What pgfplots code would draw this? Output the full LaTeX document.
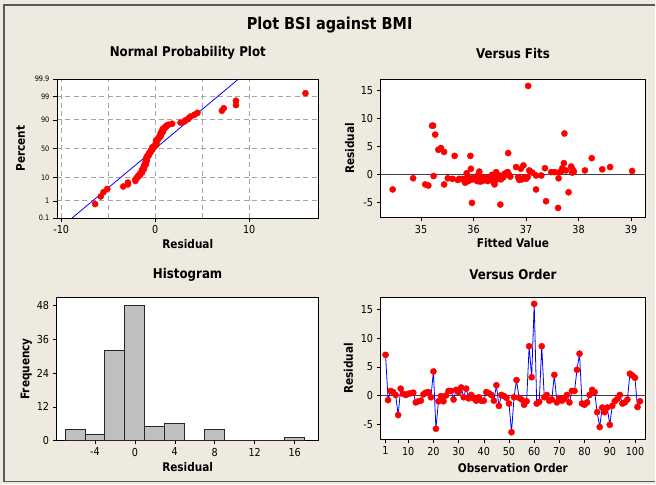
\documentclass[border=0pt]{standalone}
\usepackage{fontspec}
\setmainfont{DejaVu Sans}[FakeStretch=0.88]
\usepackage{pgfplots}
\pgfplotsset{compat=1.18}
\usepackage{pgfplotstable}

\definecolor{mtbbg}{RGB}{238,234,224}
\definecolor{mtbframe}{RGB}{90,90,90}
\definecolor{mtbgrid}{RGB}{165,165,165}
\definecolor{mtbbar}{RGB}{192,192,192}

% residuals against observation order
\pgfplotstableread{
obs res
1 7.1
2 -0.8
3 0.8
4 0.6
5 0.1
6 -3.4
7 1.2
8 0.3
9 0.1
10 0.3
11 0.4
12 0.5
13 -1.2
14 -1.0
15 -0.9
16 0.2
17 0.5
18 0.6
19 -0.3
20 4.2
21 -5.8
22 -1.0
23 -0.1
24 -1.0
25 0.0
26 0.8
27 0.8
28 -0.7
29 1.0
30 0.6
31 1.4
32 -0.3
33 1.2
34 -0.5
35 0.1
36 -0.5
37 -0.9
38 -0.3
39 -0.9
40 -0.9
41 0.6
42 0.4
43 0.1
44 -0.9
45 1.8
46 -1.8
47 0.1
48 -0.1
49 -0.4
50 -1.4
51 -6.4
52 -0.3
53 2.7
54 -0.4
55 -0.7
56 -1.6
57 -1.0
58 8.6
59 3.2
60 16.0
61 -1.4
62 -1.1
63 8.6
64 -0.3
65 0.1
66 -0.9
67 -0.7
68 3.6
69 -1.2
70 -0.5
71 -0.9
72 -0.6
73 0.1
74 -1.2
75 0.8
76 0.8
77 4.5
78 7.3
79 -1.4
80 -1.6
81 -1.2
82 0.1
83 1.0
84 0.6
85 -2.9
86 -5.5
87 -2.1
88 -2.9
89 -2.1
90 -5.1
91 -1.8
92 -1.0
93 -0.6
94 0.1
95 -1.4
96 -1.2
97 -0.7
98 3.8
99 3.5
100 3.1
101 -2.0
102 -1.0
}\ordertab

% sorted residuals and normal scores
\pgfplotstableread{
res z
-6.4 -2.466
-5.8 -2.130
-5.5 -1.937
-5.1 -1.797
-3.4 -1.686
-2.9 -1.592
-2.9 -1.511
-2.1 -1.438
-2.1 -1.372
-2.0 -1.312
-1.8 -1.256
-1.8 -1.204
-1.6 -1.155
-1.6 -1.108
-1.4 -1.064
-1.4 -1.022
-1.4 -0.981
-1.4 -0.943
-1.2 -0.905
-1.2 -0.869
-1.2 -0.834
-1.2 -0.800
-1.2 -0.767
-1.1 -0.734
-1.0 -0.703
-1.0 -0.672
-1.0 -0.641
-1.0 -0.611
-1.0 -0.582
-1.0 -0.553
-0.9 -0.525
-0.9 -0.497
-0.9 -0.470
-0.9 -0.442
-0.9 -0.416
-0.9 -0.389
-0.9 -0.363
-0.8 -0.337
-0.7 -0.311
-0.7 -0.286
-0.7 -0.260
-0.7 -0.235
-0.6 -0.210
-0.6 -0.185
-0.5 -0.160
-0.5 -0.135
-0.5 -0.110
-0.4 -0.086
-0.4 -0.061
-0.3 -0.037
-0.3 -0.012
-0.3 0.012
-0.3 0.037
-0.3 0.061
-0.1 0.086
-0.1 0.110
0.0 0.135
0.1 0.160
0.1 0.185
0.1 0.210
0.1 0.235
0.1 0.260
0.1 0.286
0.1 0.311
0.1 0.337
0.1 0.363
0.2 0.389
0.3 0.416
0.3 0.442
0.4 0.470
0.4 0.497
0.5 0.525
0.5 0.553
0.6 0.582
0.6 0.611
0.6 0.641
0.6 0.672
0.6 0.703
0.8 0.734
0.8 0.767
0.8 0.800
0.8 0.834
0.8 0.869
1.0 0.905
1.0 0.943
1.2 0.981
1.2 1.022
1.4 1.064
1.8 1.108
2.7 1.155
3.1 1.204
3.2 1.256
3.5 1.312
3.6 1.372
3.8 1.438
4.2 1.511
4.5 1.592
7.1 1.686
7.3 1.797
8.6 1.937
8.6 2.130
16.0 2.466
}\npptab

% fitted values and residuals
\pgfplotstableread{
fit res
34.46 -2.7
34.85 -0.7
35.08 -1.8
35.14 -2.0
35.21 8.7
35.23 8.7
35.24 -0.3
35.27 7.1
35.33 4.4
35.38 4.7
35.44 4.0
35.44 -1.8
35.51 -0.7
35.60 -0.8
35.64 3.3
35.70 -1.0
35.73 -0.8
35.79 -0.8
35.82 -1.1
35.84 -1.5
35.86 -0.9
35.87 0.2
35.89 -0.4
35.90 -1.2
35.92 -1.0
35.94 3.3
35.95 1.0
35.97 -5.1
35.97 -0.9
35.98 -0.7
36.02 -0.9
36.05 -0.5
36.07 -1.2
36.08 -0.2
36.09 -1.0
36.11 0.5
36.12 -0.3
36.13 -1.3
36.14 -1.0
36.16 -0.7
36.19 -1.1
36.20 -0.6
36.24 -0.8
36.27 -1.2
36.30 -0.5
36.33 -1.0
36.35 -0.1
36.36 -0.9
36.38 -1.4
36.40 -1.8
36.42 -1.1
36.43 0.4
36.46 -0.3
36.49 -0.2
36.51 -5.4
36.52 -0.9
36.54 -0.7
36.57 -0.5
36.59 0.1
36.62 0.2
36.65 0.4
36.66 3.8
36.68 -0.1
36.70 -0.4
36.81 1.3
36.85 -0.5
36.87 -1.0
36.88 -0.7
36.90 1.0
36.92 -0.9
36.95 1.6
36.97 -0.5
37.00 -0.8
37.03 -0.5
37.04 15.8
37.06 0.7
37.08 0.5
37.12 0.3
37.19 -0.2
37.19 -2.7
37.29 -0.2
37.36 1.1
37.38 -4.8
37.48 0.4
37.54 0.4
37.61 -6.0
37.62 -0.7
37.64 0.4
37.68 0.6
37.69 1.1
37.72 2.0
37.73 7.3
37.76 0.7
37.81 -3.2
37.86 1.4
37.88 0.3
37.89 0.8
37.91 0.5
38.12 0.7
38.25 2.9
38.45 0.9
38.60 1.3
39.02 0.6
}\fitstab

\pgfplotsset{
  mtb/.style={
    scale only axis,
    axis background/.style={fill=white},
    axis line style={black, line width=0.8bp},
    tick align=outside,
    xtick pos=left, ytick pos=left,
    major tick length=4bp,
    tick style={black, line width=0.6bp},
    tick label style={font=\fontsize{11}{12}\selectfont},
    title style={font=\bfseries\fontsize{13.5}{15}\selectfont, anchor=center, at={(0.5,1)}},
    xlabel style={font=\bfseries\fontsize{12}{14}\selectfont, anchor=center, at={(0.5,0)}},
    ylabel style={font=\bfseries\fontsize{12}{14}\selectfont, anchor=center},
  },
  redpts/.style={only marks, mark=*, mark size=3.1bp, mark options={draw=red, fill=red}},
}

\begin{document}
\begin{tikzpicture}[x=1bp,y=1bp]
\fill[mtbbg] (0,0) rectangle (656,485);
\draw[mtbframe, line width=1.5bp] (656,480) -- (4,480) -- (4,3) -- (656,3);
\node[font=\bfseries\fontsize{16.5}{18}\selectfont] at (330,460) {Plot BSI against BMI};

% Normal probability plot
\begin{axis}[mtb,
  at={(57bp,266.7bp)}, anchor=south west,
  width=262bp, height=139bp,
  xmin=-10.46, xmax=17.4, ymin=-3.0902, ymax=3.0902,
  xtick={-10,0,10}, xticklabels={-10,0,10},
  minor xtick={-5,5},
  ytick={-3.0902,-2.3263,-1.2816,0,1.2816,2.3263,3.0902},
  yticklabels={0.1,1,10,50,90,99,99.9},
  yticklabel style={font=\fontsize{7.5}{8}\selectfont},
  xmajorgrids, xminorgrids, ymajorgrids,
  grid style={mtbgrid, dash pattern=on 5bp off 3.5bp, line width=0.8bp},
  minor tick length=0pt,
  title={Normal Probability Plot}, title style={yshift=20bp},
  xlabel={Residual}, xlabel style={yshift=-26bp},
  ylabel={Percent}, ylabel style={at={(-0.1386,0.5)}},
]
\addplot[blue, line width=0.8bp] coordinates {(-8.85,-3.0902) (8.85,3.0902)};
\addplot[redpts] table[x=res, y=z] {\npptab};
\end{axis}

% Versus fits
\begin{axis}[mtb,
  at={(381bp,267.3bp)}, anchor=south west,
  width=265bp, height=138.4bp,
  xmin=34.23, xmax=39.27, ymin=-7.7, ymax=17.0,
  xtick={35,36,37,38,39}, xticklabels={35,36,37,38,39},
  ytick={-5,0,5,10,15}, yticklabels={-5,0,5,10,15},
  title={Versus Fits}, title style={yshift=20bp},
  xlabel={Fitted Value}, xlabel style={yshift=-26bp},
  ylabel={Residual}, ylabel style={at={(-0.117,0.5)}},
]
\addplot[black!75, line width=0.9bp] coordinates {(34,0) (40,0)};
\addplot[redpts] table[x=fit, y=res] {\fitstab};
\end{axis}

% Histogram
\begin{axis}[mtb,
  at={(56.7bp,44bp)}, anchor=south west,
  width=262.3bp, height=143.3bp,
  xmin=-7.83, xmax=18.4, ymin=0, ymax=51,
  xtick={-4,0,4,8,12,16}, xticklabels={-4,0,4,8,12,16},
  ytick={0,12,24,36,48}, yticklabels={0,12,24,36,48},
  title={Histogram}, title style={yshift=17bp},
  xlabel={Residual}, xlabel style={yshift=-27bp},
  ylabel={Frequency}, ylabel style={at={(-0.1155,0.5)}},
]
\addplot[ybar interval, fill=mtbbar, draw=black!85, line width=0.8bp] coordinates {
  (-7,4) (-5,2) (-3,32) (-1,48) (1,5) (3,6) (5,0) (7,4) (9,0) (11,0) (13,0) (15,1) (17,1)
};
\end{axis}

% Versus order
\begin{axis}[mtb,
  at={(381bp,45bp)}, anchor=south west,
  width=265bp, height=142.7bp,
  xmin=-0.98, xmax=104.1, ymin=-7.67, ymax=17.2,
  xtick={1,10,20,30,40,50,60,70,80,90,100},
  xticklabels={1,10,20,30,40,50,60,70,80,90,100},
  ytick={-5,0,5,10,15}, yticklabels={-5,0,5,10,15},
  title={Versus Order}, title style={yshift=17bp},
  xlabel={Observation Order}, xlabel style={yshift=-29bp},
  ylabel={Residual}, ylabel style={at={(-0.121,0.5)}},
]
\addplot[black!75, line width=0.9bp] coordinates {(-2,0) (106,0)};
\addplot[blue, line width=0.8bp] table[x=obs, y=res] {\ordertab};
\addplot[redpts] table[x=obs, y=res] {\ordertab};
\end{axis}
\end{tikzpicture}
\end{document}
